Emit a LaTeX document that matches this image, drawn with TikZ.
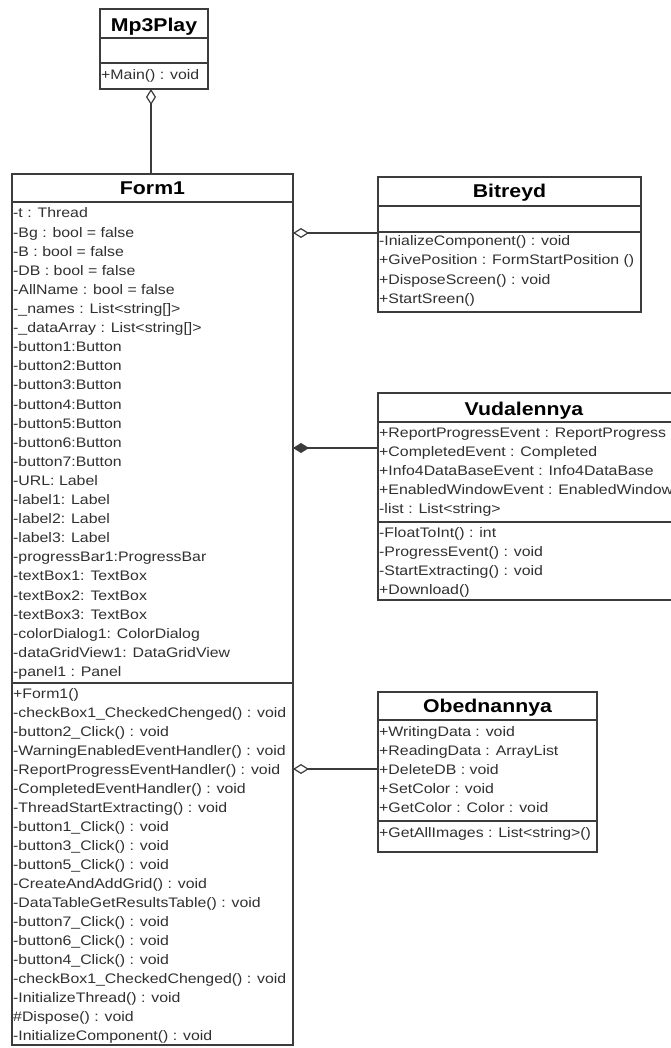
\documentclass[tikz,border=0pt]{standalone}
\usepackage{fontspec}
\setmainfont{Liberation Sans}[FakeStretch=1.15]
\usepackage{tikz}
\usetikzlibrary{arrows.meta, positioning}
\definecolor{umlline}{HTML}{3C3C3C}
\definecolor{umltext}{HTML}{303030}

\begin{document}
\begin{tikzpicture}[x=1pt, y=-1pt,
    classbox/.style={draw=umlline, line width=1.4pt, anchor=north west, inner sep=0pt, outer sep=0pt},
    sepline/.style={umlline, line width=1.4pt},
    classtitle/.style={anchor=base, inner sep=0pt, font=\fontsize{18.5}{22}\selectfont\bfseries},
    member/.style={anchor=base west, inner sep=0pt, text=umltext, font=\fontsize{13.8}{16}\selectfont},
    aggr/.style={umlline, line width=1.4pt, -{Diamond[open, length=16pt, width=10pt, line width=1.2pt]}},
    compo/.style={umlline, line width=1.4pt, -{Diamond[length=16pt, width=10pt]}}]
    \useasboundingbox (0,0) rectangle (670,1048);
    \fill[white] (0,0) rectangle (670,1048);

    % Mp3Play
    \node[classbox, minimum width=108pt, minimum height=80pt] (mp3play) at (100,9) {};
    \draw[sepline] (100,38) -- (208,38);
    \draw[sepline] (100,63) -- (208,63);
    \node[classtitle] (mp3play-title) at (154,32) {Mp3Play};
    \node[member] (mp3play-m0) at (101,80) {+Main() : void};

    % Form1
    \node[classbox, minimum width=281pt, minimum height=871pt] (form1) at (12,174) {};
    \draw[sepline] (12,202) -- (293,202);
    \draw[sepline] (12,683) -- (293,683);
    \node[classtitle] (form1-title) at (152.5,195) {Form1};
    \foreach \m [count=\i from 0] in {{-t : Thread}, {-Bg : bool = false}, {-B : bool = false},
        {-DB : bool = false}, {-AllName : bool = false}, {-\_names : List<string[]>},
        {-\_dataArray : List<string[]>}, {-button1:Button}, {-button2:Button}, {-button3:Button},
        {-button4:Button}, {-button5:Button}, {-button6:Button}, {-button7:Button},
        {-URL: Label}, {-label1: Label}, {-label2: Label}, {-label3: Label},
        {-progressBar1:ProgressBar}, {-textBox1: TextBox}, {-textBox2: TextBox},
        {-textBox3: TextBox}, {-colorDialog1: ColorDialog}, {-dataGridView1: DataGridView},
        {-panel1 : Panel}}
        \node[member] (form1-a\i) at (13,218+19.1*\i) {\m};
    \foreach \m [count=\i from 0] in {{+Form1()}, {-checkBox1\_CheckedChenged() : void},
        {-button2\_Click() : void}, {-WarningEnabledEventHandler() : void},
        {-ReportProgressEventHandler() : void}, {-CompletedEventHandler() : void},
        {-ThreadStartExtracting() : void}, {-button1\_Click() : void}, {-button3\_Click() : void},
        {-button5\_Click() : void}, {-CreateAndAddGrid() : void},
        {-DataTableGetResultsTable() : void}, {-button7\_Click() : void},
        {-button6\_Click() : void}, {-button4\_Click() : void},
        {-checkBox1\_CheckedChenged() : void}, {-InitializeThread() : void},
        {\#Dispose() : void}, {-InitializeComponent() : void}}
        \node[member] (form1-m\i) at (13,698+19*\i) {\m};

    % Bitreyd
    \node[classbox, minimum width=263pt, minimum height=135pt] (bitreyd) at (378,177) {};
    \draw[sepline] (378,206) -- (641,206);
    \draw[sepline] (378,232) -- (641,232);
    \node[classtitle] (bitreyd-title) at (509.5,198) {Bitreyd};
    \foreach \m [count=\i from 0] in {{-InializeComponent() : void},
        {+GivePosition : FormStartPosition ()}, {+DisposeScreen() : void}, {+StartSreen()}}
        \node[member] (bitreyd-m\i) at (379,246+19*\i) {\m};

    % Vudalennya
    \node[classbox, minimum width=312pt, minimum height=207pt] (vudalennya) at (378,393) {};
    \draw[sepline] (378,422) -- (690,422);
    \draw[sepline] (378,522) -- (690,522);
    \node[classtitle] (vudalennya-title) at (524,415) {Vudalennya};
    \foreach \m [count=\i from 0] in {{+ReportProgressEvent : ReportProgress},
        {+CompletedEvent : Completed}, {+Info4DataBaseEvent : Info4DataBase},
        {+EnabledWindowEvent : EnabledWindow}, {-list : List<string>}}
        \node[member] (vudalennya-a\i) at (379,437+19*\i) {\m};
    \foreach \m [count=\i from 0] in {{-FloatToInt() : int}, {-ProgressEvent() : void},
        {-StartExtracting() : void}, {+Download()}}
        \node[member] (vudalennya-m\i) at (379,537+19*\i) {\m};

    % Obednannya
    \node[classbox, minimum width=219pt, minimum height=160pt] (obednannya) at (378,692) {};
    \draw[sepline] (378,720) -- (597,720);
    \draw[sepline] (378,821) -- (597,821);
    \node[classtitle] (obednannya-title) at (487.5,712) {Obednannya};
    \foreach \m [count=\i from 0] in {{+WritingData : void}, {+ReadingData : ArrayList},
        {+DeleteDB : void}, {+SetColor : void}, {+GetColor : Color : void}}
        \node[member] (obednannya-a\i) at (379,736+19*\i) {\m};
    \node[member] (obednannya-m0) at (379,837) {+GetAllImages : List<string>()};

    % Zviazky
    \coordinate (mp3play-port) at (151,89);
    \coordinate (bitreyd-port) at (378,233);
    \coordinate (vudalennya-port) at (378,448);
    \coordinate (obednannya-port) at (378,769);
    \draw[aggr] (mp3play-port |- form1.north) -- (mp3play-port);
    \draw[aggr] (bitreyd-port) -- (bitreyd-port -| form1.east);
    \draw[compo] (vudalennya-port) -- (vudalennya-port -| form1.east);
    \draw[aggr] (obednannya-port) -- (obednannya-port -| form1.east);
\end{tikzpicture}
\end{document}
